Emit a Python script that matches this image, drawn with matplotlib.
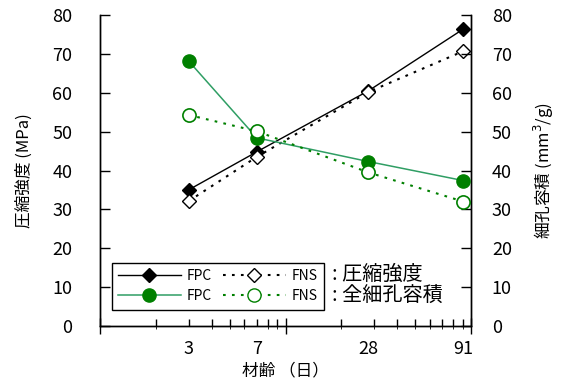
import matplotlib
matplotlib.use("Agg")
import matplotlib.pyplot as plt
from matplotlib.ticker import FixedLocator, NullFormatter
from matplotlib.lines import Line2D

plt.rcParams['font.family'] = ['Noto Sans CJK JP', 'DejaVu Sans']

ages = [3, 7, 28, 91]
age_labels = ['3', '7', '28', '91']
fpc_strength = [35.0, 44.8, 60.5, 76.4]
fns_strength = [32.1, 43.5, 60.2, 70.7]
fpc_pore = [68.2, 48.4, 42.3, 37.4]
fns_pore = [54.3, 50.1, 39.5, 32.0]

green = '#008000'
green_line = '#2f9e64'
dot = (0, (1.3, 3.0))
dms, cms = 7.5, 9.5
fig = plt.figure(figsize=(5.65, 3.83), dpi=100)
ax = fig.add_axes([100/565, 1-326/383, 371/565, 311/383])
ax2 = ax.twinx()

ax.plot(ages, fpc_strength, color='black', lw=1, marker='D', ms=dms, mfc='black', mec='black', zorder=3)
ax.plot(ages, fns_strength, color='black', lw=1.5, ls=dot, marker='D', ms=dms, mfc='white', mec='black', zorder=3)
ax2.plot(ages, fpc_pore, color=green_line, lw=1.1, marker='o', ms=cms, mfc=green, mec=green, zorder=3)
ax2.plot(ages, fns_pore, color=green, lw=1.5, ls=dot, marker='o', ms=cms, mfc='white', mec=green, mew=1.2, zorder=3)

ax.set_xscale('log')
ax.set_xlim(1, 100)
ax.set_ylim(0, 80)
ax2.set_ylim(0, 80)
ax.set_yticks(range(0, 81, 10))
ax2.set_yticks(range(0, 81, 10))

ax.xaxis.set_major_locator(FixedLocator([1, 10, 100]))
ax.xaxis.set_major_formatter(NullFormatter())
ax.xaxis.set_minor_locator(FixedLocator([2, 3, 4, 5, 6, 7, 8, 9, 20, 30, 40, 50, 60, 70, 80, 90]))
ax.xaxis.set_minor_formatter(NullFormatter())
ax.tick_params(axis='x', which='major', direction='inout', length=12, width=1)
ax.tick_params(axis='x', which='minor', direction='in', length=5, width=1)
ax.tick_params(axis='y', direction='in', length=7, width=1, labelsize=13, pad=20)
ax2.tick_params(axis='y', direction='in', length=7, width=1, labelsize=13, pad=15)

sec = ax.secondary_xaxis('bottom')
sec.set_xticks(ages, age_labels)
sec.tick_params(length=0, labelsize=13, pad=10)
sec.spines['bottom'].set_visible(False)

for a in (ax, ax2):
    for s in a.spines.values():
        s.set_linewidth(1)
ax.spines['top'].set_visible(False)
ax2.spines['top'].set_visible(False)

ax.set_ylabel('圧縮強度 (MPa)', fontsize=12, labelpad=14)
ax2.set_ylabel('細孔容積 (mm$^3$/g)', fontsize=12, labelpad=14)
sec.set_xlabel('材齢 （日）', fontsize=12, labelpad=3)

handles = [
    Line2D([], [], color='black', lw=1, marker='D', ms=dms, mfc='black', mec='black'),
    Line2D([], [], color=green_line, lw=1.1, marker='o', ms=cms, mfc=green, mec=green),
    Line2D([], [], color='black', lw=1.5, ls=dot, marker='D', ms=dms, mfc='white', mec='black'),
    Line2D([], [], color=green, lw=1.5, ls=dot, marker='o', ms=cms, mfc='white', mec=green),
]
labels = ['FPC', 'FPC', 'FNS', 'FNS']
leg = ax.legend(handles, labels, ncol=2, loc='lower left', bbox_to_anchor=(0.032, 0.053),
                borderaxespad=0, fancybox=False, framealpha=1, edgecolor='black',
                fontsize=10, handlelength=4.5, handletextpad=0.45, columnspacing=0.8,
                labelspacing=0.45, borderpad=0.45)
leg.get_frame().set_linewidth(1)

ax.text(0.626, 0.167, ': 圧縮強度', transform=ax.transAxes, fontsize=14.5, va='center', ha='left', zorder=6)
ax.text(0.626, 0.096, ': 全細孔容積', transform=ax.transAxes, fontsize=14.5, va='center', ha='left', zorder=6)

fig.savefig('out.png', dpi=100)
